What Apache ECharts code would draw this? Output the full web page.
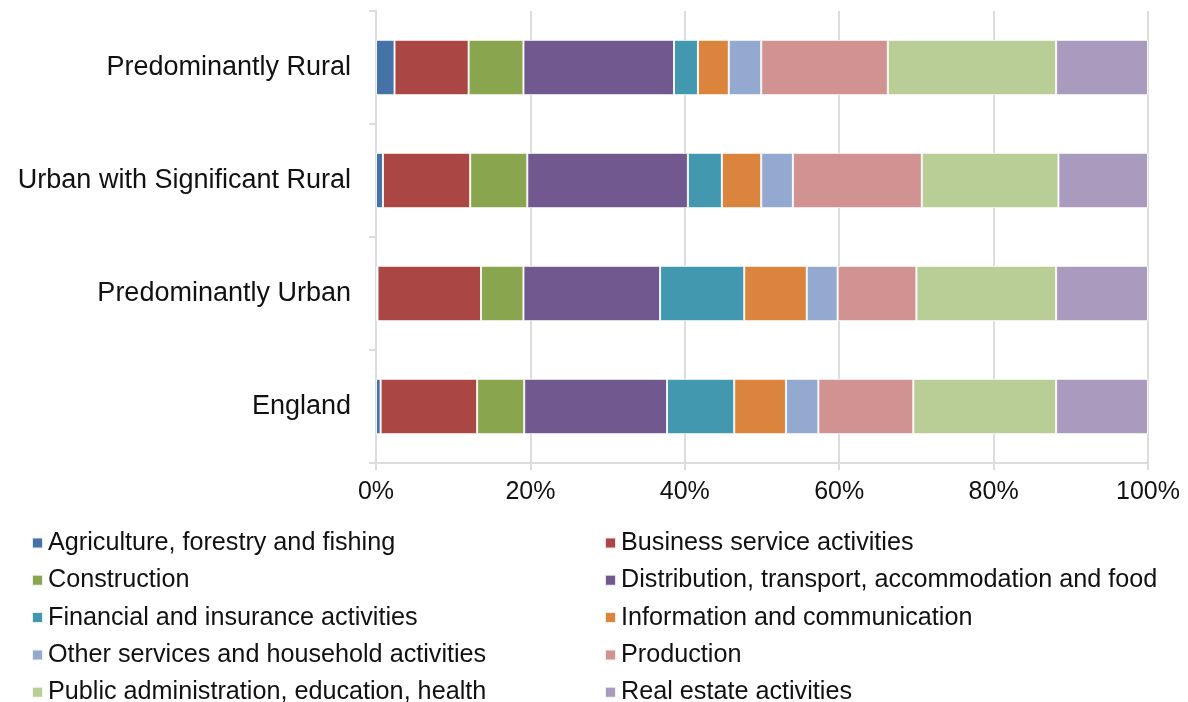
<!DOCTYPE html>
<html>
<head>
<meta charset="utf-8">
<style>
  html, body { margin: 0; padding: 0; background: #fff; }
  #chart { width: 1188px; height: 702px; }
</style>
<script src="https://cdn.jsdelivr.net/npm/echarts@6/dist/echarts.min.js"></script>
</head>
<body>
<div id="chart"></div>
<script>
// categories, bottom to top
const regions = ['England', 'Predominantly Urban', 'Urban with Significant Rural', 'Predominantly Rural']
const xTicks = [0, 20, 40, 60, 80, 100]

// share of GVA (%) per region, same order as regions
const agriculture = [0.6, 0.2, 0.9, 2.4]
const business = [12.5, 13.4, 11.3, 9.6]
const construction = [6.1, 5.5, 7.4, 7.1]
const distribution = [18.5, 17.7, 20.8, 19.5]
const financial = [8.7, 10.9, 4.4, 3.1]
const information = [6.7, 8.1, 5.1, 4.0]
const otherServices = [4.2, 4.0, 4.1, 4.2]
const production = [12.3, 10.2, 16.7, 16.4]
const publicAdmin = [18.5, 18.1, 17.7, 21.8]
const realEstate = [11.9, 11.9, 11.6, 11.9]

const sectorNames = [
  'Agriculture, forestry and fishing',
  'Business service activities',
  'Construction',
  'Distribution, transport, accommodation and food',
  'Financial and insurance activities',
  'Information and communication',
  'Other services and household activities',
  'Production',
  'Public administration, education, health',
  'Real estate activities'
]
const sectorValues = [agriculture, business, construction, distribution, financial,
  information, otherServices, production, publicAdmin, realEstate]
const colors = ['#4572A7', '#AA4643', '#89A54E', '#71588F', '#4198AF',
  '#DB843D', '#93A9CF', '#D19392', '#B9CD96', '#A99BBD']

const chart = echarts.init(document.getElementById('chart'))
const font = 'Liberation Sans, Arial, sans-serif'
const gridColor = '#dcdcdc'

// legend is two columns: even items left, odd items right
const legendText = { fontFamily: font, fontSize: 25.2, color: '#111', lineHeight: 25 }
const legendBase = {
  orient: 'vertical',
  top: 530.5,
  height: 200,
  padding: 0,
  itemGap: 12.3,
  itemWidth: 11,
  itemHeight: 11,
  icon: 'rect',
  selectedMode: false,
  textStyle: legendText
}

const option = {
  animation: false,
  color: colors,
  grid: { left: 376, right: 40, top: 11, bottom: 239, containLabel: false },
  legend: [
    Object.assign({}, legendBase, { left: 31, data: sectorNames.filter((n, i) => i % 2 === 0) }),
    Object.assign({}, legendBase, { left: 604, data: sectorNames.filter((n, i) => i % 2 === 1) })
  ],
  xAxis: {
    type: 'value',
    min: xTicks[0],
    max: xTicks[xTicks.length - 1],
    interval: 20,
    axisLine: { show: true, lineStyle: { color: gridColor, width: 2 } },
    axisTick: { show: true, length: 7, lineStyle: { color: gridColor, width: 2 } },
    splitLine: { show: true, lineStyle: { color: gridColor, width: 2 } },
    axisLabel: { formatter: '{value}%', fontFamily: font, fontSize: 25, color: '#111', margin: 17 }
  },
  yAxis: {
    type: 'category',
    data: regions,
    axisLine: { show: true, lineStyle: { color: gridColor, width: 2 } },
    axisTick: { show: true, length: 7, lineStyle: { color: gridColor, width: 2 } },
    axisLabel: { fontFamily: font, fontSize: 27, color: '#111', margin: 25 }
  },
  series: sectorNames.map((name, i) => ({
    name: name,
    type: 'bar',
    stack: 'total',
    barCategoryGap: '51%',
    data: sectorValues[i],
    itemStyle: { borderColor: 'rgba(255,255,255,0.85)', borderWidth: 1 }
  }))
}
chart.setOption(option)
</script>
</body>
</html>
